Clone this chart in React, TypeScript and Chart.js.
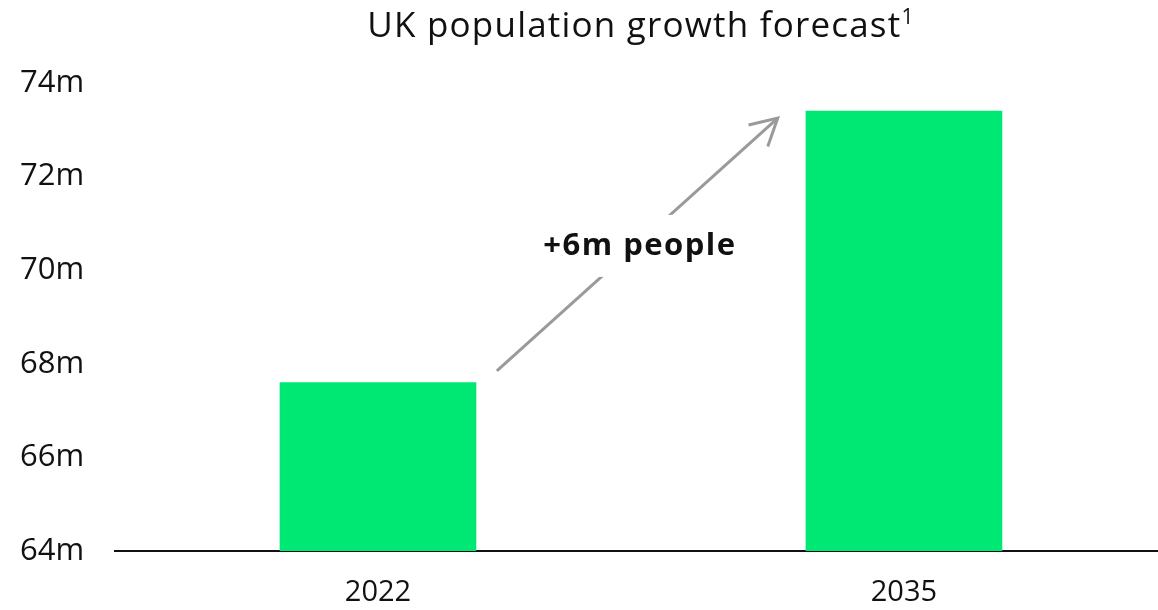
import React, { useEffect, useRef } from "react";
import { Chart, registerables } from "chart.js";

Chart.register(...registerables);

const years = ["2022", "2035"];
const population = [67.6, 73.4]; // millions
const yTicks = [64, 66, 68, 70, 72, 74];
const titleText = "UK population growth forecast";
const titleSup = "1";
const annotationText = "+6m people";
// arrow in data units: [xIndex, value]
const arrowFrom = [0.226, 67.85];
const arrowTo = [0.76, 73.25];
const labelAt = [0.498, 70.52];

const GREEN = "#00E874";
const FONT = "'Open Sans', Lato, sans-serif";

export default function App() {
  const ref = useRef<HTMLCanvasElement | null>(null);
  useEffect(() => {
    if (!ref.current) return;
    const overlay = {
      id: "overlay",
      afterDraw(chart: any) {
        const ctx = chart.ctx;
        const xs = chart.scales.x;
        const ys = chart.scales.y;
        ctx.save();
        // title
        ctx.fillStyle = "#111";
        ctx.letterSpacing = "1.2px";
        ctx.font = `400 35px ${FONT}`;
        ctx.textBaseline = "alphabetic";
        const w1 = ctx.measureText(titleText).width;
        ctx.font = `400 21px ${FONT}`;
        const w2 = ctx.measureText(titleSup).width;
        const cx = 641;
        const startX = cx - (w1 + w2) / 2;
        ctx.font = `400 35px ${FONT}`;
        ctx.textAlign = "left";
        ctx.fillText(titleText, startX, 37);
        ctx.font = `400 21px ${FONT}`;
        ctx.fillText(titleSup, startX + w1, 24);

        // arrow
        const x1 = xs.getPixelForValue(arrowFrom[0]);
        const y1 = ys.getPixelForValue(arrowFrom[1]);
        const x2 = xs.getPixelForValue(arrowTo[0]);
        const y2 = ys.getPixelForValue(arrowTo[1]);
        ctx.strokeStyle = "#9a9a9a";
        ctx.lineWidth = 3;
        ctx.lineCap = "butt";
        ctx.beginPath();
        ctx.moveTo(x1, y1);
        ctx.lineTo(x2, y2);
        ctx.stroke();
        const ang = Math.atan2(y2 - y1, x2 - x1);
        const hl = 30;
        const spread = 0.5;
        ctx.beginPath();
        ctx.moveTo(x2 - hl * Math.cos(ang - spread), y2 - hl * Math.sin(ang - spread));
        ctx.lineTo(x2, y2);
        ctx.lineTo(x2 - hl * Math.cos(ang + spread), y2 - hl * Math.sin(ang + spread));
        ctx.stroke();

        // label with white knock-out
        const lx = xs.getPixelForValue(labelAt[0]);
        const ly = ys.getPixelForValue(labelAt[1]);
        ctx.letterSpacing = "1.5px";
        ctx.font = `700 31px ${FONT}`;
        const tw = ctx.measureText(annotationText).width;
        ctx.fillStyle = "#fff";
        ctx.fillRect(lx - tw / 2 - 6, ly - 31, tw + 12, 62);
        ctx.fillStyle = "#111";
        ctx.textAlign = "left";
        ctx.textBaseline = "middle";
        ctx.fillText(annotationText, lx - tw / 2, ly);
        ctx.restore();
      },
    };

    const chart = new Chart(ref.current, {
      type: "bar",
      data: {
        datasets: [
          {
            data: population.map((v, i) => ({ x: i, y: v })),
            backgroundColor: GREEN,
            borderWidth: 0,
            barThickness: 196,
          },
        ],
      },
      options: {
        animation: false,
        responsive: true,
        maintainAspectRatio: false,
        layout: { padding: { top: 83, left: 20, right: 0, bottom: 0 } },
        plugins: {
          legend: { display: false },
          tooltip: { enabled: false },
          title: { display: false },
        },
        scales: {
          x: {
            type: "linear",
            offset: false,
            min: -0.5,
            max: 1.483,
            grid: { display: false, drawTicks: false, offset: false },
            border: { display: true, color: "#111", width: 2 },
            afterBuildTicks: (scale: any) => {
              scale.ticks = years.map((_, i) => ({ value: i }));
            },
            afterFit: (scale: any) => {
              scale.height = 59;
            },
            ticks: {
              padding: 24,
              color: "#111",
              font: { family: FONT, size: 29 },
              callback: (v: any) => years[v] ?? "",
              maxRotation: 0,
            },
          },
          y: {
            min: 64,
            max: 74,
            grid: { display: false, drawTicks: false },
            border: { display: false },
            afterBuildTicks: (scale: any) => {
              scale.ticks = yTicks.map((v) => ({ value: v }));
            },
            afterFit: (scale: any) => {
              scale.width = 95;
            },
            ticks: {
              crossAlign: "far",
              padding: 20,
              color: "#111",
              font: { family: FONT, size: 31 },
              callback: (v: any) => `${v}m`,
            },
          },
        },
      },
      plugins: [overlay],
    });
    return () => chart.destroy();
  }, []);

  return (
    <div style={{ position: "absolute", left: 0, top: 0, width: 1158, height: 610, background: "#fff" }}>
      <canvas ref={ref} />
    </div>
  );
}
